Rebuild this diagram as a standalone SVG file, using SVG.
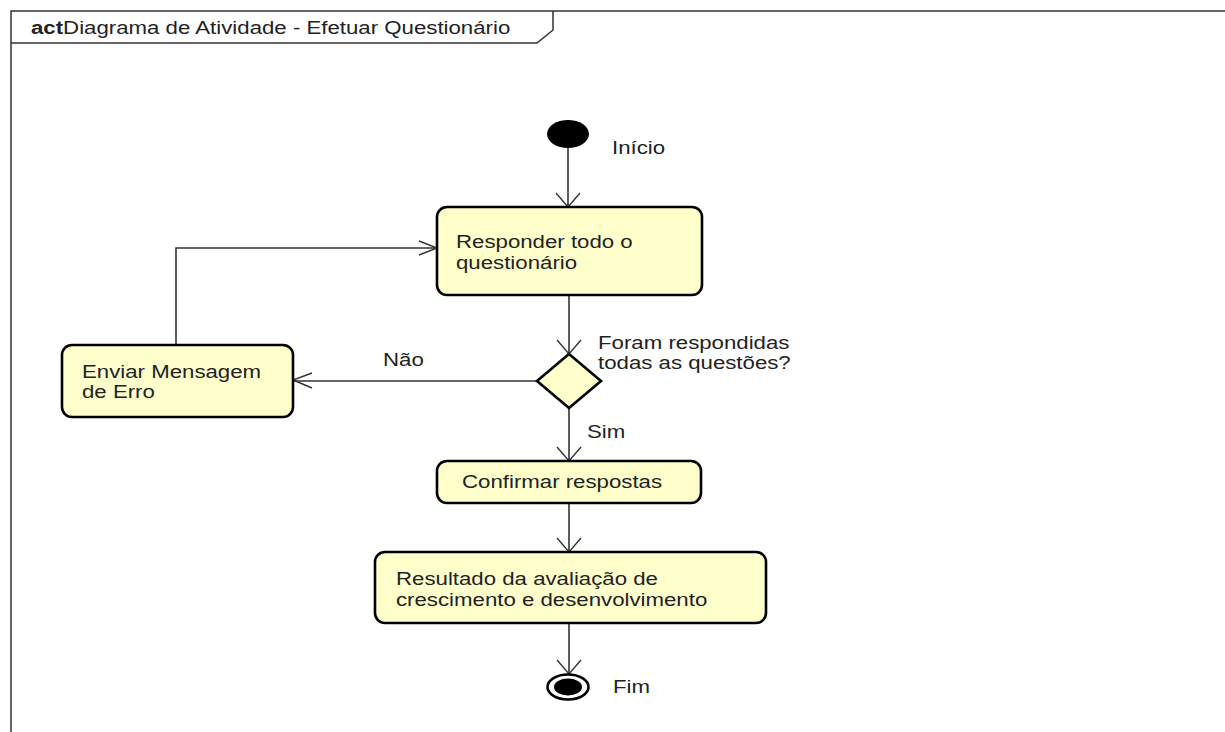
<svg xmlns="http://www.w3.org/2000/svg" width="1225" height="732" viewBox="0 0 1225 732">
  <style>
    .frame { fill: none; stroke: #333; stroke-width: 1.5; }
    .node { fill: #FFFFCC; stroke: #000; stroke-width: 2.6; }
    .edge { fill: none; stroke: #333; stroke-width: 1.6; }
    .head { fill: none; stroke: #333; stroke-width: 1.4; }
    .lbl { font-family: "Liberation Sans", Arial, sans-serif; font-size: 17.5px; fill: #222; }
  </style>

  <rect width="1225" height="732" fill="#fff"/>

  <!-- activity frame with name tab -->
  <g id="frame">
    <path class="frame" d="M11,732 V11 H1225"/>
    <path class="frame" d="M11,43 H537 L553,30 V11"/>
    <text class="lbl" transform="translate(31,34) scale(1.27,1)"><tspan font-weight="bold">act</tspan><tspan>Diagrama de Atividade - Efetuar Questionário</tspan></text>
  </g>

  <!-- control flows -->
  <g id="connectors">
    <path class="edge" d="M568,148 V207"/>
    <path class="head" d="M556,193 L568,207 L580,193"/>

    <path class="edge" d="M569,295 V354"/>
    <path class="head" d="M557,340 L569,354 L581,340"/>

    <path class="edge" d="M537,381 H293"/>
    <path class="head" d="M312,373 L293,380 L312,388"/>
    <text class="lbl" transform="translate(383,366) scale(1.27,1)">Não</text>

    <path class="edge" d="M176,345 V248 H437"/>
    <path class="head" d="M419,241 L437,248 L419,255"/>

    <path class="edge" d="M569,408 V461"/>
    <path class="head" d="M557,447 L569,461 L581,447"/>
    <text class="lbl" transform="translate(587,438) scale(1.27,1)">Sim</text>

    <path class="edge" d="M569,503 V552"/>
    <path class="head" d="M557,538 L569,552 L581,538"/>

    <path class="edge" d="M569,623 V674"/>
    <path class="head" d="M557,660 L569,674 L581,660"/>
  </g>

  <!-- initial node -->
  <g id="inicio">
    <ellipse cx="568" cy="134" rx="21" ry="14" fill="#000"/>
    <text class="lbl" transform="translate(612,154) scale(1.27,1)">Início</text>
  </g>

  <g id="responder">
    <rect class="node" x="437" y="207" width="265" height="88" rx="10" ry="10"/>
    <text class="lbl" transform="translate(456,248) scale(1.27,1)">Responder todo o</text>
    <text class="lbl" transform="translate(456,269) scale(1.27,1)">questionário</text>
  </g>

  <g id="decisao">
    <path class="node" d="M569,354 L601,381 L569,408 L537,381 Z"/>
    <text class="lbl" transform="translate(598,349) scale(1.27,1)">Foram respondidas</text>
    <text class="lbl" transform="translate(598,369) scale(1.27,1)">todas as questões?</text>
  </g>

  <g id="enviar-erro">
    <rect class="node" x="62" y="345" width="231" height="72" rx="10" ry="10"/>
    <text class="lbl" transform="translate(82,378) scale(1.27,1)">Enviar Mensagem</text>
    <text class="lbl" transform="translate(82,398) scale(1.27,1)">de Erro</text>
  </g>

  <g id="confirmar">
    <rect class="node" x="437" y="461" width="264" height="42" rx="10" ry="10"/>
    <text class="lbl" transform="translate(462,488) scale(1.27,1)">Confirmar respostas</text>
  </g>

  <g id="resultado">
    <rect class="node" x="375" y="552" width="391" height="71" rx="10" ry="10"/>
    <text class="lbl" transform="translate(396,585) scale(1.27,1)">Resultado da avaliação de</text>
    <text class="lbl" transform="translate(396,606) scale(1.27,1)">crescimento e desenvolvimento</text>
  </g>

  <!-- final node -->
  <g id="fim">
    <ellipse cx="568" cy="687" rx="20.5" ry="12.5" fill="#fff" stroke="#000" stroke-width="2.6"/>
    <ellipse cx="568" cy="687" rx="14" ry="8.5" fill="#000"/>
    <text class="lbl" transform="translate(613,693) scale(1.27,1)">Fim</text>
  </g>
</svg>
